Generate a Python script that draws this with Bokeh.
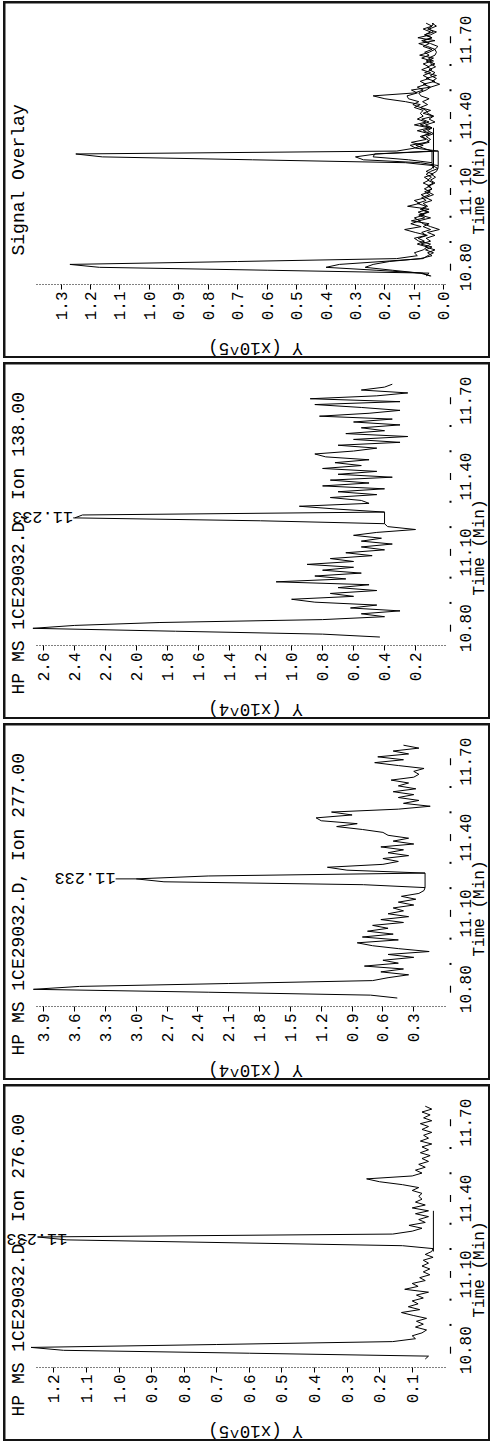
import math
from bokeh.plotting import figure
from bokeh.models import (Range1d, LinearAxis, FixedTicker, PrintfTickFormatter,
                          CustomJSTickFormatter, Label)
from bokeh.layouts import column
from bokeh.embed import file_html
from bokeh.resources import INLINE

# ---------------- data ----------------
scan_start = 10.765      # min, first scan
scan_step = 0.0115       # min, scan interval

# Ion 276.00, abundance in units of 10^5
ion_276 = [0.06, 0.05, 0.60, 1.17, 1.27, 0.70, 0.16, 0.09, 0.10, 0.07,
           0.056, 0.09, 0.066, 0.087, 0.056, 0.097, 0.133, 0.077, 0.112, 0.082,
           0.10, 0.066, 0.087, 0.05, 0.123, 0.082, 0.10, 0.06, 0.077, 0.046,
           0.066, 0.046, 0.07, 0.05, 0.066, 0.036, 0.06, 0.04, 0.036, 0.13,
           0.65, 1.16, 1.25, 0.16, 0.10, 0.07, 0.11, 0.06, 0.08, 0.05,
           0.09, 0.05, 0.10, 0.06, 0.09, 0.07, 0.08, 0.07, 0.10, 0.08,
           0.13, 0.20, 0.24, 0.10, 0.07, 0.09, 0.06, 0.08, 0.05, 0.07,
           0.045, 0.075, 0.05, 0.07, 0.04, 0.075, 0.05, 0.065, 0.04, 0.07,
           0.05, 0.075, 0.04, 0.065, 0.045, 0.07, 0.04, 0.06]

# Ion 277.00, abundance in units of 10^4
ion_277 = [0.46, 0.72, 2.30, 4.00, 3.55, 2.10, 0.70, 0.55, 0.35, 0.62,
           0.40, 0.78, 0.45, 0.60, 0.30, 0.55, 0.15, 0.45, 0.70, 0.85,
           0.45, 0.80, 0.50, 0.75, 0.55, 0.70, 0.40, 0.62, 0.35, 0.55,
           0.40, 0.50, 0.30, 0.45, 0.28, 0.42, 0.25, 0.20, 0.19, 0.79,
           2.73, 3.00, 2.30, 0.19, 0.95, 1.14, 0.60, 0.45, 0.60, 0.35,
           0.55, 0.40, 0.62, 0.30, 0.50, 0.35, 0.55, 0.60, 0.80, 1.05,
           0.85, 1.20, 1.25, 0.90, 1.10, 0.45, 0.14, 0.40, 0.25, 0.45,
           0.30, 0.50, 0.28, 0.45, 0.35, 0.52, 0.30, 0.25, 0.30, 0.20,
           0.45, 0.68, 0.40, 0.65, 0.35, 0.50, 0.25, 0.40]

# Ion 138.00, abundance in units of 10^4
ion_138 = [0.43, 0.80, 1.75, 2.67, 2.40, 1.85, 0.80, 0.40, 0.55, 0.30,
           0.62, 0.45, 0.85, 1.00, 0.60, 0.75, 0.45, 0.70, 0.50, 1.10,
           0.65, 0.85, 0.55, 0.80, 0.60, 0.90, 0.60, 0.75, 0.48, 0.65,
           0.40, 0.55, 0.35, 0.55, 0.42, 0.60, 0.45, 0.20, 0.38, 0.40,
           1.20, 2.40, 2.35, 0.40, 0.70, 0.95, 0.50, 0.55, 0.75, 0.45,
           0.70, 0.40, 0.80, 0.50, 0.75, 0.35, 0.70, 0.45, 0.80, 0.55,
           0.72, 0.50, 0.78, 0.85, 0.60, 0.45, 0.70, 0.30, 0.60, 0.25,
           0.65, 0.40, 0.55, 0.30, 0.60, 0.35, 0.82, 0.50, 0.30, 0.55,
           0.85, 0.30, 0.88, 0.45, 0.25, 0.55, 0.40, 0.35]

scan_times = [round(scan_start + scan_step * i, 4) for i in range(len(ion_276))]

# integration baselines of the 11.233 peak (time, abundance)
baseline_276_t = [11.1905, 11.3515]
baseline_276_v = [0.035, 0.035]
baseline_277_t = [11.2020, 11.2595]
baseline_277_v = [0.19, 0.19]
baseline_138_t = [11.2135, 11.2595]
baseline_138_v = [0.40, 0.40]

peak_rt = 11.2365
peak_rt_text = "11.233"
peak_top_276 = 1.25
peak_top_277 = 3.00
peak_top_138 = 2.40

time_ticks = [10.80, 11.10, 11.40, 11.70]
time_minor_ticks = [10.90, 11.00, 11.20, 11.30, 11.50, 11.60]
ticks_overlay = [0.0, 0.1, 0.2, 0.3, 0.4, 0.5, 0.6, 0.7, 0.8, 0.9, 1.0, 1.1, 1.2, 1.3]
ticks_138 = [0.2, 0.4, 0.6, 0.8, 1.0, 1.2, 1.4, 1.6, 1.8, 2.0, 2.2, 2.4, 2.6]
ticks_277 = [0.3, 0.6, 0.9, 1.2, 1.5, 1.8, 2.1, 2.4, 2.7, 3.0, 3.3, 3.6, 3.9]
ticks_276 = [0.1, 0.2, 0.3, 0.4, 0.5, 0.6, 0.7, 0.8, 0.9, 1.0, 1.1, 1.2]

# ---------------- layout / style ----------------
FONT = "Liberation Mono"
BW = 2                        # panel border width
W, H = 483, 353               # canvas of one panel (inside the border)
PX_PER_MIN = 252.7
AXIS_Y = 281                  # canvas row of the abundance axis line
AXIS_X = 447                  # canvas column of the time axis
T_AXIS = 10.7315              # time at the abundance axis line
T_TOP = T_AXIS + AXIS_Y / PX_PER_MIN
T_BOTTOM = T_AXIS - (H - AXIS_Y) / PX_PER_MIN
TICK_SHIFT = 24 / PX_PER_MIN  # half length of a time label


def make_panel(title, title_y, ylab, zero_px, px_per_unit, ticks, series,
               baselines, peak=None):
    def val(cx):  # abundance value at canvas column cx
        return (zero_px - cx) / px_per_unit

    p = figure(width=W, height=H, output_backend="svg", toolbar_location=None,
               x_range=Range1d(val(0), val(W)), y_range=Range1d(T_BOTTOM, T_TOP),
               x_axis_location=None, y_axis_location=None,
               min_border=0, min_border_left=0, min_border_right=0,
               min_border_top=0, min_border_bottom=0,
               background_fill_color="white", border_fill_color="white",
               outline_line_color=None, margin=(BW, BW, BW, BW))
    p.grid.visible = False
    # canvas-pixel coordinates for the decorations
    p.extra_x_ranges = {"px": Range1d(0, W)}
    p.extra_y_ranges = {"py": Range1d(H, 0)}

    # abundance axis (drawn at a fixed time)
    xa = LinearAxis(ticker=FixedTicker(ticks=ticks, minor_ticks=[]),
                    formatter=PrintfTickFormatter(format="%.1f"),
                    fixed_location=T_AXIS, bounds=(val(440), val(30)))
    xa.axis_line_color = "black"
    xa.axis_line_dash = "1 2"
    xa.axis_line_width = 1
    xa.major_tick_in = 0
    xa.major_tick_out = 5
    xa.major_tick_line_color = "black"
    xa.minor_tick_line_color = None
    xa.major_label_orientation = math.pi / 2
    xa.major_label_standoff = 2
    xa.major_label_text_font = FONT
    xa.major_label_text_font_size = "16px"
    xa.major_label_text_color = "black"
    p.add_layout(xa, "below")

    # time axis labels (fixed at the time-axis column)
    ya = LinearAxis(ticker=FixedTicker(ticks=[t - TICK_SHIFT for t in time_ticks],
                                       minor_ticks=[]),
                    formatter=CustomJSTickFormatter(args=dict(shift=TICK_SHIFT),
                                                    code="return (tick + shift).toFixed(2)"),
                    fixed_location=val(AXIS_X))
    ya.axis_line_color = None
    ya.major_tick_line_color = None
    ya.minor_tick_line_color = None
    ya.major_tick_in = 0
    ya.major_tick_out = 0
    ya.major_label_orientation = math.pi / 2
    ya.major_label_standoff = 13
    ya.major_label_text_font = FONT
    ya.major_label_text_font_size = "16px"
    ya.major_label_text_color = "black"
    p.add_layout(ya, "right")

    # tick marks of the time scale (short dashes along the axis)
    p.scatter(x=[AXIS_X - 2] * len(time_ticks), y=time_ticks, marker="dash",
              angle=math.pi / 2, size=7, line_color="black", line_width=1.2,
              x_range_name="px")
    p.scatter(x=[AXIS_X - 2] * len(time_minor_ticks), y=time_minor_ticks,
              marker="square", size=2, fill_color="black", line_color=None,
              x_range_name="px")

    for vals in series:
        p.line(x=vals, y=scan_times, line_color="black", line_width=1)
    for bt, bv in baselines:
        p.line(x=bv, y=bt, line_color="black", line_width=1)

    if peak is not None:
        top, lab_x = peak
        if lab_x > top:
            p.line(x=[top, lab_x], y=[peak_rt, peak_rt], line_color="black", line_width=1)
        p.add_layout(Label(x=lab_x, y=peak_rt, text=peak_rt_text, angle=math.pi,
                           text_align="left", text_baseline="middle",
                           text_font=FONT, text_font_size="17px", text_color="black"))

    # texts around the plot: title, abundance-axis title, time-axis title
    p.add_layout(Label(x=13.5, y=title_y, x_range_name="px", y_range_name="py",
                       text=title, angle=math.pi / 2, text_align="left",
                       text_baseline="middle", text_font=FONT,
                       text_font_size="18px", text_color="black"))
    p.add_layout(Label(x=250, y=344, x_range_name="px", y_range_name="py",
                       text=ylab, angle=math.pi, text_align="center",
                       text_baseline="middle", text_font=FONT,
                       text_font_size="17.5px", text_color="black"))
    p.add_layout(Label(x=474, y=183, x_range_name="px", y_range_name="py",
                       text="Time (Min)", angle=math.pi / 2, text_align="center",
                       text_baseline="middle", text_font=FONT,
                       text_font_size="16px", text_color="black"))

    return column(p, styles={"background-color": "#141414"})


ov_277 = [v / 10 for v in ion_277]
ov_138 = [v / 10 for v in ion_138]

p_overlay = make_panel(
    "Signal Overlay", 252, "Y (x10^5)", 438.3, 294.4, ticks_overlay,
    [ion_276, ov_277, ov_138],
    [(baseline_276_t, baseline_276_v),
     (baseline_277_t, [v / 10 for v in baseline_277_v]),
     (baseline_138_t, [v / 10 for v in baseline_138_v])])

p_138 = make_panel(
    "HP MS 1CE29032.D, Ion 138.00", 330, "Y (x10^4)", 441.0, 154.9, ticks_138,
    [ion_138], [(baseline_138_t, baseline_138_v)], peak=(peak_top_138, 2.41))

p_277 = make_panel(
    "HP MS 1CE29032.D, Ion 277.00", 330, "Y (x10^4)", 439.1, 102.8, ticks_277,
    [ion_277], [(baseline_277_t, baseline_277_v)], peak=(peak_top_277, 3.20))

p_276 = make_panel(
    "HP MS 1CE29032.D, Ion 276.00", 330, "Y (x10^5)", 439.3, 325.8, ticks_276,
    [ion_276], [(baseline_276_t, baseline_276_v)], peak=(peak_top_276, 1.158))

layout = column(p_overlay, p_138, p_277, p_276, spacing=4, margin=(1, 0, 0, 3))

open("out.html", "w").write(file_html(layout, INLINE))
